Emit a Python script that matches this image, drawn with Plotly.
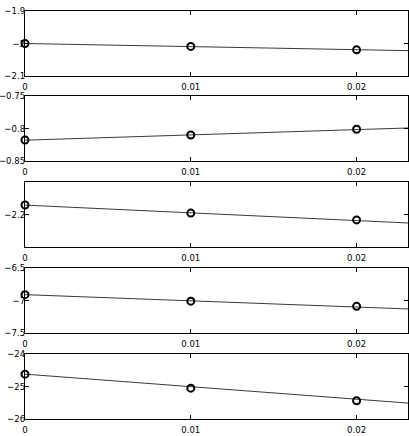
import plotly.graph_objects as go
from plotly.subplots import make_subplots

# sample points (circles)
x_pts = [0, 0.01, 0.02]
p1 = [-2.0, -2.009, -2.0195]
p2 = [-0.8177, -0.810, -0.8012]
p3 = [-2.1737, -2.196, -2.215]
p4 = [-6.91, -7.01, -7.09]
p5 = [-24.62, -25.05, -25.44]

# fitted line end points
x_line = [0, 0.0231]
l1 = [-2.0, -2.022]
l2 = [-0.818, -0.7992]
l3 = [-2.174, -2.2235]
l4 = [-6.91, -7.13]
l5 = [-24.62, -25.51]

y_ranges = [[-2.1, -1.9], [-0.85, -0.75], [-2.29, -2.11], [-7.5, -6.5], [-26, -24]]
y_ticks = [[-2.1, -2.0, -1.9], [-0.85, -0.8, -0.75], [-2.2], [-7.5, -7, -6.5], [-26, -25, -24]]
y_text = [["−2.1", "−2", "−1.9"], ["−0.85", "−0.8", "−0.75"], ["−2.2"],
          ["−7.5", "−7", "−6.5"], ["−26", "−25", "−24"]]

W, H = 409, 436
px_rows = [(11, 76), (96, 161), (182, 247), (268, 333), (354, 419)]

fig = make_subplots(rows=5, cols=1)
font = dict(family="Liberation Sans Narrow, DejaVu Sans Condensed, Liberation Sans, Arial",
            size=9.5, color="black")

for i, (pts, ln) in enumerate(zip([p1, p2, p3, p4, p5], [l1, l2, l3, l4, l5])):
    r = i + 1
    fig.add_trace(go.Scatter(x=x_line, y=ln, mode="lines",
                             line=dict(color="#3a3a3a", width=1)), row=r, col=1)
    fig.add_trace(go.Scatter(x=x_pts, y=pts, mode="markers", cliponaxis=False,
                             marker=dict(symbol="circle-open", size=7, color="black",
                                         line=dict(width=2, color="black"))), row=r, col=1)
    top, bot = px_rows[i]
    fig.update_yaxes(domain=[1 - bot / H, 1 - top / H], range=y_ranges[i],
                     tickvals=y_ticks[i], ticktext=y_text[i], automargin=False,
                     ticks="inside", ticklen=4, tickcolor="black",
                     showline=True, linecolor="black", linewidth=1, mirror="allticks",
                     showgrid=False, zeroline=False, tickfont=font, ticklabelstandoff=-3,
                     row=r, col=1)
    fig.update_xaxes(range=[0, 0.0231], tickvals=[0, 0.01, 0.02], ticktext=["0", "0.01", "0.02"],
                     automargin=False, ticks="inside", ticklen=4, tickcolor="black",
                     showline=True, linecolor="black", linewidth=1, mirror="allticks",
                     showgrid=False, zeroline=False, tickfont=font, ticklabelstandoff=2,
                     row=r, col=1)

fig.update_layout(width=W, height=H, showlegend=False,
                  margin=dict(l=25, r=1, t=0, b=0),
                  plot_bgcolor="white", paper_bgcolor="white", font=font)
fig.write_html("out.html", config={"displayModeBar": False},
               post_script="document.body.style.margin='0';")
